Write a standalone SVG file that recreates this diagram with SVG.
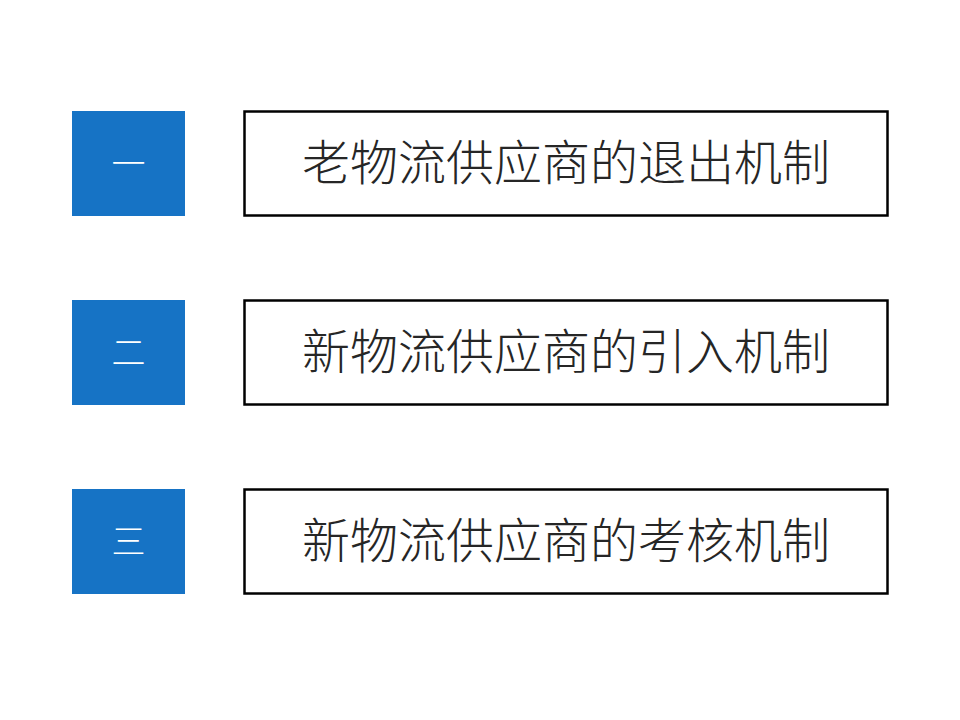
<svg xmlns="http://www.w3.org/2000/svg" width="960" height="720" viewBox="0 0 960 720">
<style>
.num{fill:#1673C5}
.numt{fill:#ffffff;font-family:"Noto Sans CJK SC","Noto Sans CJK JP",sans-serif;font-size:34px;font-weight:300;text-anchor:middle;dominant-baseline:central}
.box{fill:#ffffff;stroke:#000000;stroke-width:2.5}
.lbl{fill:#262626;font-family:"Noto Sans CJK SC","Noto Sans CJK JP",sans-serif;font-size:48px;font-weight:300;text-anchor:middle;dominant-baseline:central}
</style>
<rect width="960" height="720" fill="#ffffff"/>
<g id="n1">
<rect class="num" x="72" y="111" width="113" height="105"/>
<text class="numt" x="128.5" y="161">一</text>
</g>
<g id="b1">
<rect class="box" x="244.5" y="111.5" width="643" height="104"/>
<text class="lbl" x="566" y="159">老物流供应商的退出机制</text>
</g>
<g id="n2">
<rect class="num" x="72" y="300" width="113" height="105"/>
<text class="numt" x="128.5" y="350">二</text>
</g>
<g id="b2">
<rect class="box" x="244.5" y="300.5" width="643" height="104"/>
<text class="lbl" x="566" y="348">新物流供应商的引入机制</text>
</g>
<g id="n3">
<rect class="num" x="72" y="489" width="113" height="105"/>
<text class="numt" x="128.5" y="539">三</text>
</g>
<g id="b3">
<rect class="box" x="244.5" y="489.5" width="643" height="104"/>
<text class="lbl" x="566" y="537">新物流供应商的考核机制</text>
</g>
<g id="connectors"></g>
</svg>
